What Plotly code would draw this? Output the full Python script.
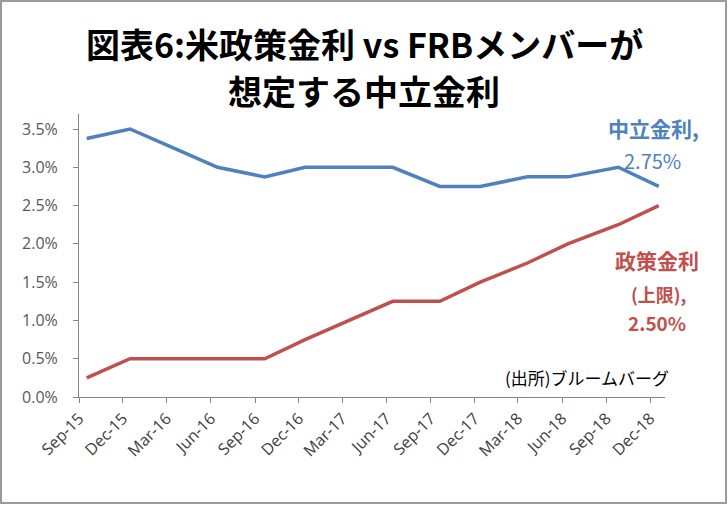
import plotly.graph_objects as go

# 日付 (FOMC)
fechas = ["2015-09-17", "2015-12-16", "2016-03-16", "2016-06-15", "2016-09-21",
          "2016-12-14", "2017-03-15", "2017-06-14", "2017-09-20", "2017-12-13",
          "2018-03-21", "2018-06-13", "2018-09-26", "2018-12-19"]
neutral_rate = [3.375, 3.5, 3.25, 3.0, 2.875, 3.0, 3.0, 3.0, 2.75, 2.75,
                2.875, 2.875, 3.0, 2.75]
policy_rate = [0.25, 0.5, 0.5, 0.5, 0.5, 0.75, 1.0, 1.25, 1.25, 1.5,
               1.75, 2.0, 2.25, 2.5]

tick_fechas = ["2015-09-01", "2015-12-01", "2016-03-01", "2016-06-01", "2016-09-01",
               "2016-12-01", "2017-03-01", "2017-06-01", "2017-09-01", "2017-12-01",
               "2018-03-01", "2018-06-01", "2018-09-01", "2018-12-01"]
tick_labels = ["Sep-15", "Dec-15", "Mar-16", "Jun-16", "Sep-16", "Dec-16", "Mar-17",
               "Jun-17", "Sep-17", "Dec-17", "Mar-18", "Jun-18", "Sep-18", "Dec-18"]
y_ticks = [0, 0.5, 1.0, 1.5, 2.0, 2.5, 3.0, 3.5]
y_labels = ["0.0%", "0.5%", "1.0%", "1.5%", "2.0%", "2.5%", "3.0%", "3.5%"]

W, H = 728, 505
L, R, T, B = 79, 63, 114, 108
pw, ph = W - L - R, H - T - B

def px_x(x):
    return (x - L) / pw

def px_y(y):
    return (H - B - y) / ph

AZUL = "#4F81BD"
ROJO = "#C0504D"
CJK = "Noto Sans CJK JP"

fig = go.Figure()
fig.add_trace(go.Scatter(x=fechas, y=neutral_rate, mode="lines",
                         line=dict(color=AZUL, width=3.5), showlegend=False))
fig.add_trace(go.Scatter(x=fechas, y=policy_rate, mode="lines",
                         line=dict(color=ROJO, width=3.5), showlegend=False))

def nota(texto, x, y, size, color, bold=False):
    fig.add_annotation(text=f"<b>{texto}</b>" if bold else texto,
                       xref="paper", yref="paper", x=px_x(x), y=px_y(y),
                       xanchor="center", yanchor="middle", showarrow=False,
                       font=dict(family=CJK, size=size, color=color))

nota("図表6:米政策金利 vs FRBメンバーが", 364, 43, 34, "#000000", bold=True)
nota("想定する中立金利", 364, 90, 34, "#000000", bold=True)
nota("中立金利,", 653, 128, 21, AZUL, bold=True)
nota("2.75%", 652, 160, 20, AZUL)
nota("政策金利", 657, 260, 21, ROJO, bold=True)
nota("(上限),", 658, 294, 18, ROJO, bold=True)
nota("2.50%", 657, 322, 19, ROJO, bold=True)
nota("(出所)ブルームバーグ", 587, 377, 17, "#000000")

# 外枠
fig.add_shape(type="rect", xref="paper", yref="paper",
              x0=px_x(1), x1=px_x(726), y0=px_y(503), y1=px_y(1),
              line=dict(color="#9a9a9a", width=2), layer="below")

fig.update_xaxes(type="date", range=["2015-09-01", "2019-01-01"],
                 tickvals=tick_fechas, ticktext=tick_labels, tickangle=-45,
                 showgrid=False, zeroline=False, showline=True, linecolor="#868686",
                 ticks="outside", ticklen=5, tickcolor="#868686",
                 tickfont=dict(family="Open Sans", size=16, color="#404040"))
fig.update_yaxes(range=[0, 3.696], tickvals=y_ticks, ticktext=y_labels,
                 showgrid=False, zeroline=False, showline=True, linecolor="#868686",
                 ticks="outside", ticklen=5, tickcolor="#868686", ticklabelstandoff=12,
                 tickfont=dict(family="Open Sans", size=16, color="#595959"))

fig.update_layout(width=W, height=H, margin=dict(l=L, r=R, t=T, b=B),
                  plot_bgcolor="white", paper_bgcolor="white")

fig.write_html("out.html", config={"displayModeBar": False},
               post_script="document.body.style.margin='0';")
